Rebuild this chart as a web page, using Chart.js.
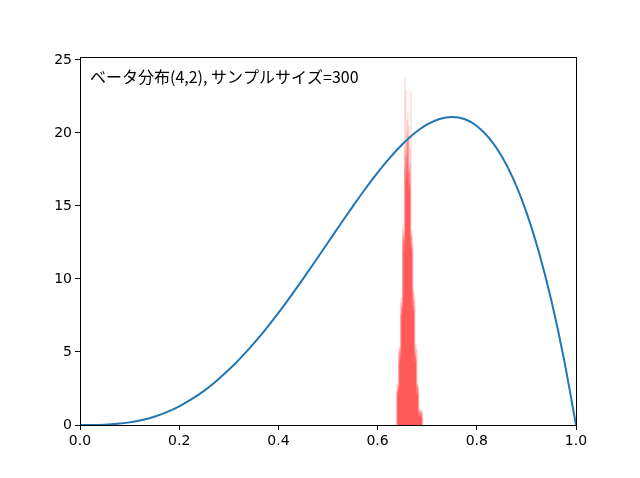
<!DOCTYPE html>
<html>
<head>
<meta charset="utf-8">
<script src="https://cdn.jsdelivr.net/npm/chart.js@4"></script>
<style>
  html, body { margin: 0; padding: 0; background: #fff; }
  #wrap { width: 640px; height: 478px; }
</style>
</head>
<body>
<div id="wrap"><canvas id="chart" width="640" height="478"></canvas></div>
<script>
// curve (x step 0.025)
const curveX = [0, 0.025, 0.05, 0.075, 0.1, 0.125, 0.15, 0.175, 0.2, 0.225, 0.25, 0.275, 0.3, 0.325, 0.35, 0.375, 0.4, 0.425, 0.45, 0.475, 0.5,
    0.525, 0.55, 0.575, 0.6, 0.625, 0.65, 0.675, 0.7, 0.725, 0.75, 0.775, 0.8, 0.825, 0.85, 0.875, 0.9, 0.925, 0.95, 0.975, 1.0];
const curveY = [0, 0.003, 0.024, 0.078, 0.18, 0.34, 0.57, 0.88, 1.28, 1.77, 2.34, 3.02, 3.78, 4.63, 5.57, 6.59, 7.68, 8.83, 10.02, 11.25, 12.5,
    13.75, 14.97, 16.16, 17.28, 18.31, 19.22, 19.99, 20.58, 20.96, 21.09, 20.95, 20.48, 19.65, 18.42, 16.75, 14.58, 11.87, 8.57, 4.63, 0];

// overlapping histograms (left edge, bin width, bin heights)
const binWidth = 0.004;
const histStarts = [0.6380, 0.6375, 0.6370, 0.6410, 0.6385, 0.6375, 0.6400, 0.6390, 0.6380, 0.6395];
const histHeights = [
    [0.8, 2.1, 5.2, 7.6, 13.1, 18.4, 19.2, 17.6, 12.1, 9.0, 4.6, 2.7, 0.6],
    [0.6, 2.9, 4.4, 8.7, 13.8, 23.8, 19.5, 15.9, 12.4, 7.8, 5.5, 2.0, 1.0],
    [1.1, 2.4, 5.0, 8.3, 12.9, 19.1, 18.6, 16.5, 13.0, 8.1, 4.3, 2.9, 0.9],
    [0.7, 2.6, 4.6, 7.9, 12.2, 17.0, 20.5, 22.9, 12.4, 8.8, 5.2, 2.2, 0.5],
    [0.9, 2.3, 5.4, 8.1, 12.6, 22.9, 17.9, 17.3, 12.6, 8.4, 4.9, 2.6, 1.1],
    [0.5, 2.8, 4.7, 7.5, 13.4, 17.7, 20.9, 16.6, 13.1, 9.3, 4.8, 2.3, 0.8],
    [1.0, 2.2, 5.1, 8.9, 11.9, 18.2, 19.6, 17.8, 11.9, 8.2, 5.6, 2.5, 0.7],
    [0.6, 2.7, 4.3, 8.2, 13.0, 16.8, 21.4, 16.2, 13.3, 8.6, 4.4, 2.8, 0.9],
    [0.8, 2.4, 5.3, 7.7, 12.4, 18.8, 20.1, 17.4, 12.2, 9.1, 5.1, 2.1, 0.6],
    [0.9, 2.5, 4.9, 8.4, 12.7, 17.3, 19.8, 18.9, 12.9, 7.9, 4.7, 2.6, 1.0]
];

const xTicks = [0, 0.2, 0.4, 0.6, 0.8, 1.0];
const yTicks = [0, 5, 10, 15, 20, 25];
const titleText = 'ベータ分布(4,2), サンプルサイズ=300';

// build stepped outline for one histogram
function histPoints(start, heights) {
    const pts = heights.map((h, i) => ({ x: start + i * binWidth, y: h }));
    pts.push({ x: start + heights.length * binWidth, y: heights[heights.length - 1] });
    return pts;
}

const datasets = [{
    data: curveX.map((x, i) => ({ x, y: curveY[i] })),
    borderColor: '#1f77b4',
    borderWidth: 2,
    pointRadius: 0,
    cubicInterpolationMode: 'monotone',
    fill: false,
    order: 0
}];

histHeights.forEach((h, i) => {
    datasets.push({
        data: histPoints(histStarts[i], h),
        stepped: 'after',
        borderWidth: 0,
        borderColor: 'rgba(0,0,0,0)',
        backgroundColor: 'rgba(255, 0, 0, 0.1)',
        pointRadius: 0,
        fill: 'origin',
        order: 1
    });
});

const frame = {
    id: 'frame',
    afterDatasetsDraw(chart) {
        const { ctx, chartArea: a } = chart;
        ctx.save();
        ctx.strokeStyle = '#000';
        ctx.lineWidth = 1;
        ctx.strokeRect(Math.round(a.left) + 0.5, Math.round(a.top) + 0.5,
            Math.round(a.right - a.left), Math.round(a.bottom - a.top));
        ctx.fillStyle = '#000';
        ctx.font = '16px "Noto Sans CJK JP"';
        ctx.textBaseline = 'alphabetic';
        ctx.fillText(titleText, a.left + 10, a.top + 26);
        ctx.restore();
    }
};

const tickFont = { family: 'DejaVu Sans', size: 14 };

new Chart(document.getElementById('chart'), {
    type: 'line',
    data: { datasets },
    options: {
        responsive: false,
        animation: false,
        layout: { padding: { top: 57, right: 64, left: 0, bottom: 0 } },
        plugins: { legend: { display: false }, tooltip: { enabled: false } },
        scales: {
            x: {
                type: 'linear',
                min: 0,
                max: 1,
                afterBuildTicks: s => { s.ticks = xTicks.map(v => ({ value: v })); },
                afterFit: s => { s.height = 53; },
                grid: { display: true, drawOnChartArea: false, drawTicks: true, tickLength: 5, color: '#000' },
                border: { display: true, color: '#000' },
                ticks: { color: '#000', font: tickFont, padding: 3, maxRotation: 0,
                    callback: v => Number(v).toFixed(1) }
            },
            y: {
                type: 'linear',
                min: 0,
                max: 25.2,
                afterBuildTicks: s => { s.ticks = yTicks.map(v => ({ value: v })); },
                afterFit: s => { s.width = 80; },
                grid: { display: true, drawOnChartArea: false, drawTicks: true, tickLength: 5, color: '#000' },
                border: { display: true, color: '#000' },
                ticks: { color: '#000', font: tickFont, padding: 3,
                    callback: v => String(v) }
            }
        }
    },
    plugins: [frame]
});
</script>
</body>
</html>
